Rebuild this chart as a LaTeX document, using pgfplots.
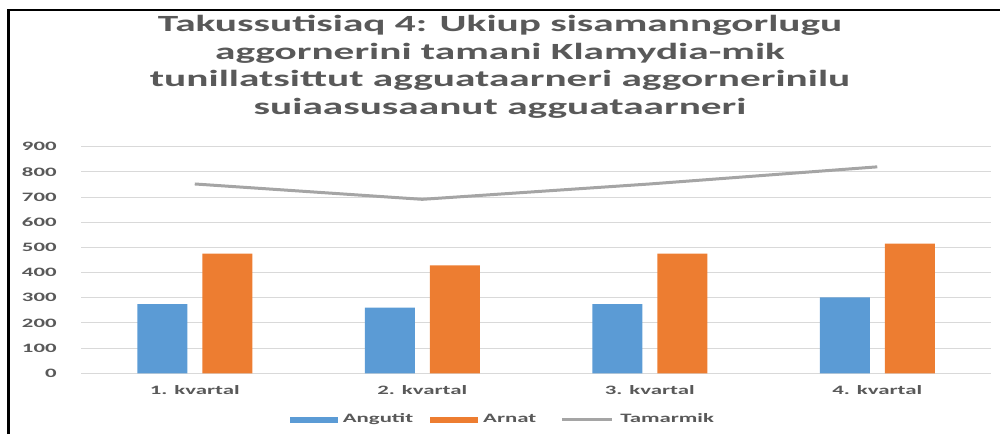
\documentclass[border=0pt]{standalone}
\usepackage{fontspec}
\setmainfont{Carlito}[FakeStretch=1.78]
\usepackage{pgfplots}
\pgfplotsset{compat=1.18}
\definecolor{cblue}{HTML}{5B9BD5}
\definecolor{corange}{HTML}{ED7D31}
\definecolor{cgray}{HTML}{A5A5A5}
\definecolor{ctext}{HTML}{595959}
\definecolor{cgrid}{HTML}{D9D9D9}
\begin{document}
\begin{tikzpicture}
\useasboundingbox (0,0) rectangle (500pt,217pt);
\draw[line width=1.2pt,black] (4.25pt,0pt) -- (4.25pt,212pt) -- (500pt,212pt);
\begin{scope}[every node/.style={text=ctext,font=\fontsize{11.6}{13.75}\selectfont\bfseries,inner sep=0pt,anchor=base}]
\node at (250pt,201pt) {Takussutisiaq 4: Ukiup sisamanngorlugu};
\node at (250pt,187.25pt) {aggornerini tamani Klamydia-mik};
\node at (250pt,173.5pt) {tunillatsittut agguataarneri aggornerinilu};
\node at (250pt,159.75pt) {suiaasusaanut agguataarneri};
\end{scope}
\begin{axis}[
  at={(40.5pt,30.35pt)}, anchor=south west,
  scale only axis, width=455pt, height=113.3pt,
  xmin=-0.5, xmax=3.5, ymin=0, ymax=900,
  xtick={0,1,2,3},
  xticklabels={1. kvartal,2. kvartal,3. kvartal,4. kvartal},
  ytick={0,100,...,900},
  ymajorgrids, grid style={cgrid,line width=0.5pt},
  axis line style={draw=none},
  major tick length=0pt, tick style={draw=none},
  /pgf/number format/assume math mode=true,
  ticklabel style={font=\fontsize{6.4}{7.7}\selectfont\bfseries,text=ctext,inner sep=0pt},
  yticklabel style={anchor=east,xshift=-12pt},
  xticklabel style={anchor=base,yshift=-10.8pt},
  legend style={at={(0.4626,-0.206)},anchor=center,draw=none,fill=none,
    font=\fontsize{6.4}{7.7}\selectfont\bfseries,text=ctext,
    /tikz/column 1/.style={column sep=2.5pt},
    /tikz/column 2/.style={column sep=8.5pt},
    /tikz/column 3/.style={column sep=2.5pt},
    /tikz/column 4/.style={column sep=12pt},
    /tikz/column 5/.style={column sep=3.5pt},
    nodes={inner sep=0pt}},
  legend columns=3,
  legend cell align=left,
]
\addplot[ybar,bar width=25pt,bar shift=-16.25pt,fill=cblue,draw=none,
  legend image code/.code={\fill[cblue] (0pt,-1.5pt) rectangle (24pt,1.5pt);}]
  coordinates {(0,275) (1,261) (2,275) (3,302)};
\addlegendentry{Angutit}
\addplot[ybar,bar width=25pt,bar shift=16.25pt,fill=corange,draw=none,
  legend image code/.code={\fill[corange] (0pt,-1.5pt) rectangle (24pt,1.5pt);}]
  coordinates {(0,475) (1,429) (2,475) (3,515)};
\addlegendentry{Arnat}
\addplot[sharp plot,color=cgray,line width=1.5pt,mark=none,
  legend image code/.code={\draw[cgray,line width=1.5pt] (0pt,0pt) -- (25pt,0pt);}]
  coordinates {(0,752) (1,691) (2,752) (3,820)};
\addlegendentry{Tamarmik}
\end{axis}
\end{tikzpicture}
\end{document}
